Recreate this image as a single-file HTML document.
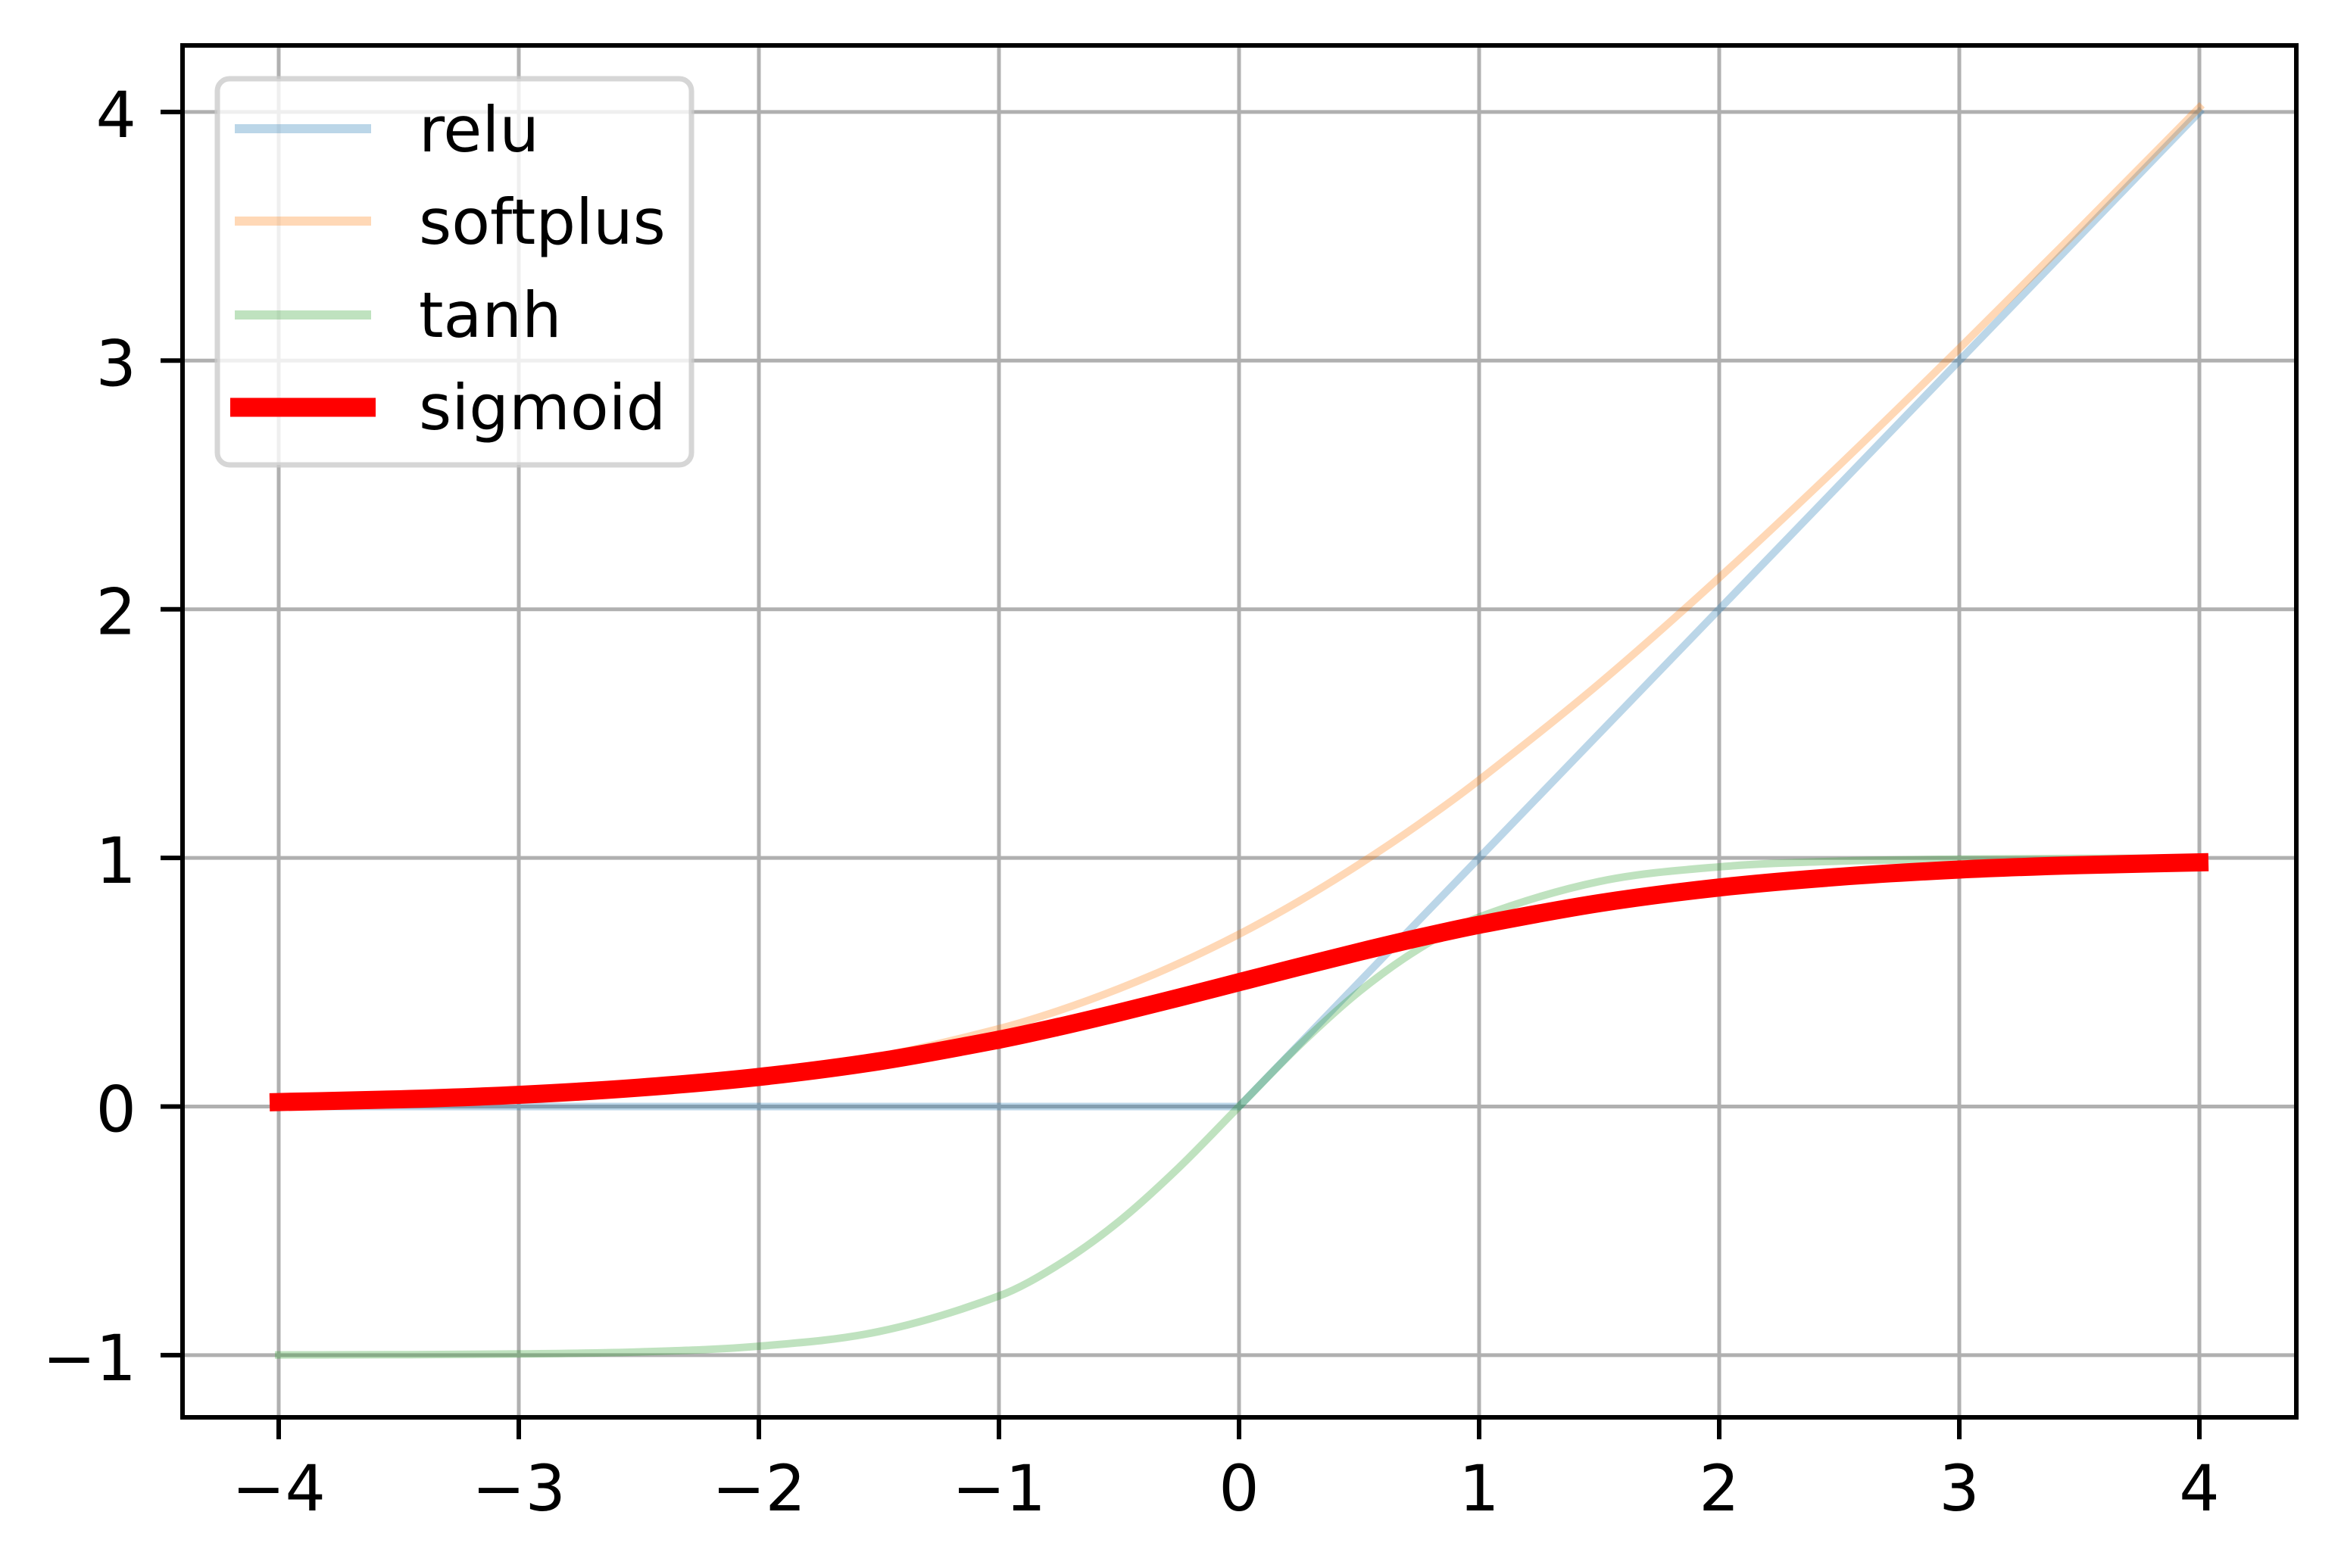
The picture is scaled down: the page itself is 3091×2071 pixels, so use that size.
<!DOCTYPE html>
<html><head><meta charset="utf-8"><style>
html,body{margin:0;padding:0;background:#fff}
svg{display:block;font-family:"DejaVu Sans","Liberation Sans",sans-serif}
</style></head><body>
<svg id="chart" width="3091" height="2071" viewBox="0 0 3091 2071">
<rect x="0" y="0" width="3091" height="2071" fill="#fff"/>
<g id="grid"></g>
<g id="series"></g>
<rect x="241" y="60" width="2791" height="1812" fill="none" stroke="#000" stroke-width="6"/>
<g id="ticks"></g>
<g id="legend">
 <rect x="287" y="104" width="626" height="510" rx="16" fill="#fff" fill-opacity="0.8" stroke="#ccc" stroke-opacity="0.8" stroke-width="7"/>
 <line x1="310" y1="170" x2="490" y2="170" stroke="#1f77b4" stroke-opacity="0.3" stroke-width="12"/>
 <text x="553" y="200" font-size="83">relu</text>
 <line x1="310" y1="292" x2="490" y2="292" stroke="#ff7f0e" stroke-opacity="0.3" stroke-width="12"/>
 <text x="553" y="322" font-size="83">softplus</text>
 <line x1="310" y1="416" x2="490" y2="416" stroke="#2ca02c" stroke-opacity="0.3" stroke-width="12"/>
 <text x="553" y="445" font-size="83">tanh</text>
 <line x1="304" y1="538" x2="496" y2="538" stroke="#ff0000" stroke-width="25"/>
 <text x="553" y="567" font-size="83">sigmoid</text>
</g>
</svg>
<script>
const xs = [-4,-3.5,-3,-2.5,-2,-1.5,-1,-0.75,-0.5,-0.25,0,0.25,0.5,0.75,1,1.5,2,2.5,3,3.5,4];
const reluVals = [0,0,0,0,0,0,0,0,0,0,0,0.25,0.5,0.75,1,1.5,2,2.5,3,3.5,4];
const softplusVals = [0.018,0.030,0.049,0.079,0.127,0.201,0.313,0.386,0.474,0.576,0.693,0.826,0.974,1.136,1.313,1.701,2.127,2.579,3.049,3.530,4.018];
const tanhVals = [-0.999,-0.998,-0.995,-0.987,-0.964,-0.905,-0.762,-0.635,-0.462,-0.245,0,0.245,0.462,0.635,0.762,0.905,0.964,0.987,0.995,0.998,0.999];
const sigmoidVals = [0.018,0.029,0.047,0.076,0.119,0.182,0.269,0.321,0.378,0.438,0.5,0.562,0.622,0.679,0.731,0.818,0.881,0.924,0.953,0.971,0.982];
const xTicks = [-4,-3,-2,-1,0,1,2,3,4];
const yTicks = [-1,0,1,2,3,4];
const xTickLabels = ["\u22124","\u22123","\u22122","\u22121","0","1","2","3","4"];
const yTickLabels = ["\u22121","0","1","2","3","4"];

const NS="http://www.w3.org/2000/svg";
function X(v){return 1636+v*317;}
function Y(v){return 1461.5-v*328.4;}
function mk(tag,attrs,parent){const e=document.createElementNS(NS,tag);for(const k in attrs)e.setAttribute(k,attrs[k]);parent.appendChild(e);return e;}
const grid=document.getElementById('grid'),ticks=document.getElementById('ticks'),series=document.getElementById('series');
xTicks.forEach((t,i)=>{
  const g=mk('line',{x1:X(t),x2:X(t),y1:60,y2:1872,stroke:'#b0b0b0','stroke-width':5},grid);
  
  
  const tk=mk('line',{x1:X(t),x2:X(t),y1:1872,y2:1901,stroke:'#000','stroke-width':6},ticks);
  
  
  const tl=mk('text',{x:X(t),y:1995,'font-size':84,'text-anchor':'middle'},ticks);
  tl.textContent=xTickLabels[i];
  
  
});
yTicks.forEach((t,i)=>{
  const g=mk('line',{x1:241,x2:3032,y1:Y(t),y2:Y(t),stroke:'#b0b0b0','stroke-width':5},grid);
  
  
  const tk=mk('line',{x1:212,x2:241,y1:Y(t),y2:Y(t),stroke:'#000','stroke-width':6},ticks);
  
  
  const tl=mk('text',{x:180,y:Y(t)+33,'font-size':84,'text-anchor':'end'},ticks);
  tl.textContent=yTickLabels[i];
  
  
});
function linearPath(vals){return vals.map((v,i)=>(i?'L':'M')+X(xs[i])+','+Y(v)).join(' ');}
function smoothPath(vals){
  const p=vals.map((v,i)=>[X(xs[i]),Y(v)]);
  let d='M'+p[0][0]+','+p[0][1];
  for(let i=0;i<p.length-1;i++){
    const p0=p[Math.max(0,i-1)],p1=p[i],p2=p[i+1],p3=p[Math.min(p.length-1,i+2)];
    const h=p2[0]-p1[0];
    const m1=(p2[1]-p0[1])/(p2[0]-p0[0]||1), m2=(p3[1]-p1[1])/(p3[0]-p1[0]||1);
    const c1=[p1[0]+h/3,p1[1]+m1*h/3];
    const c2=[p2[0]-h/3,p2[1]-m2*h/3];
    d+=' C'+c1+' '+c2+' '+p2;
  }
  return d;
}
const r=mk('path',{d:linearPath(reluVals),fill:'none',stroke:'#1f77b4','stroke-opacity':0.3,'stroke-width':10,'stroke-linecap':'square'},series);


const s=mk('path',{d:smoothPath(softplusVals),fill:'none',stroke:'#ff7f0e','stroke-opacity':0.3,'stroke-width':10,'stroke-linecap':'square'},series);


const t=mk('path',{d:smoothPath(tanhVals),fill:'none',stroke:'#2ca02c','stroke-opacity':0.3,'stroke-width':10,'stroke-linecap':'square'},series);


const sg=mk('path',{d:smoothPath(sigmoidVals),fill:'none',stroke:'#ff0000','stroke-width':24,'stroke-linecap':'square'},series);


</script>
</body></html>
